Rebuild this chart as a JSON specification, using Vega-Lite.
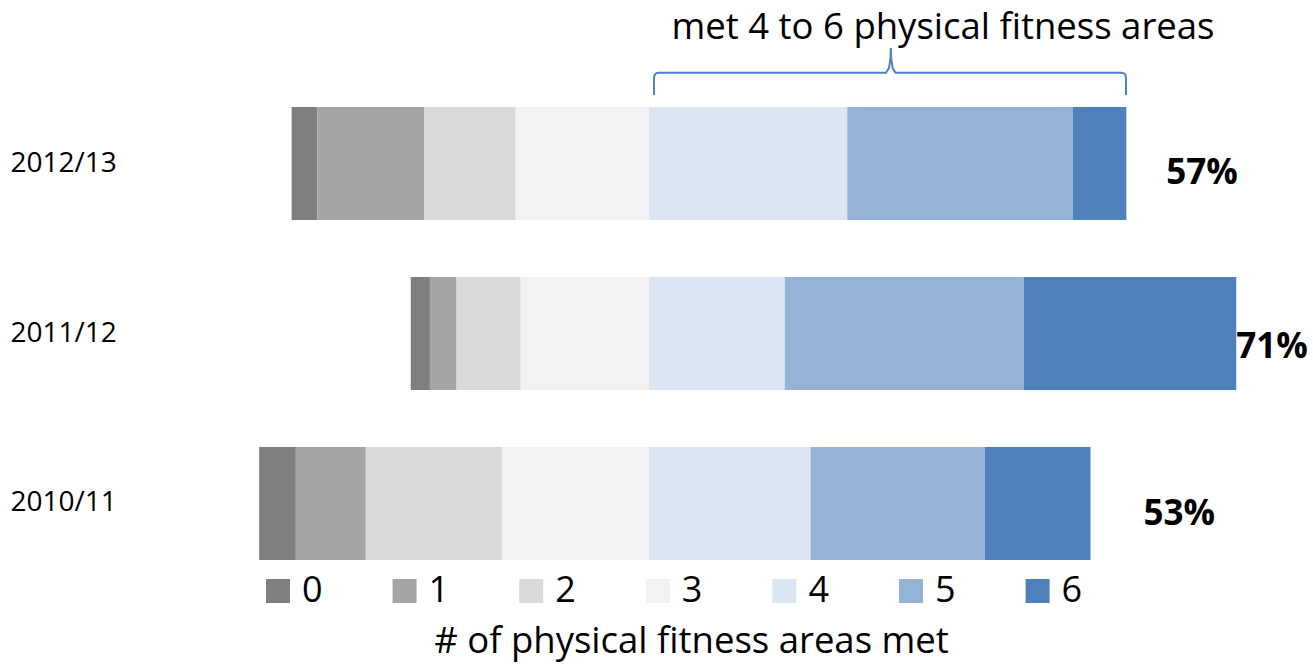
{
  "$schema": "https://vega.github.io/schema/vega-lite/v6.json",
  "width": 1063,
  "height": 453,
  "autosize": {"type": "none"},
  "padding": {"left": 250, "top": 107, "right": 0, "bottom": 105},
  "background": "white",
  "config": {"view": {"stroke": null}, "font": "Open Sans"},
  "layer": [
    {
      "layer": [
        {
          "data": {
            "values": [
              {"year": "2012/13", "met": 0, "pct": 3.1},
              {"year": "2012/13", "met": 1, "pct": 12.8},
              {"year": "2012/13", "met": 2, "pct": 11.0},
              {"year": "2012/13", "met": 3, "pct": 16.0},
              {"year": "2012/13", "met": 4, "pct": 23.8},
              {"year": "2012/13", "met": 5, "pct": 27.1},
              {"year": "2012/13", "met": 6, "pct": 6.4},
              {"year": "2011/12", "met": 0, "pct": 2.3},
              {"year": "2011/12", "met": 1, "pct": 3.2},
              {"year": "2011/12", "met": 2, "pct": 7.7},
              {"year": "2011/12", "met": 3, "pct": 15.4},
              {"year": "2011/12", "met": 4, "pct": 16.3},
              {"year": "2011/12", "met": 5, "pct": 28.7},
              {"year": "2011/12", "met": 6, "pct": 25.5},
              {"year": "2010/11", "met": 0, "pct": 4.4},
              {"year": "2010/11", "met": 1, "pct": 8.4},
              {"year": "2010/11", "met": 2, "pct": 16.4},
              {"year": "2010/11", "met": 3, "pct": 17.6},
              {"year": "2010/11", "met": 4, "pct": 19.4},
              {"year": "2010/11", "met": 5, "pct": 20.9},
              {"year": "2010/11", "met": 6, "pct": 12.7}
            ]
          },
          "transform": [
            {"calculate": "datum.met < 4 ? -datum.pct : datum.pct", "as": "signed"},
            {"calculate": "abs(datum.met - 3.5)", "as": "rank"}
          ],
          "mark": {"type": "bar"},
          "encoding": {
            "y": {
              "field": "year",
              "type": "nominal",
              "sort": ["2012/13", "2011/12", "2010/11"],
              "scale": {"paddingInner": 0.335, "paddingOuter": 0},
              "axis": {
                "title": null,
                "labelAlign": "left",
                "labelPadding": 240,
                "ticks": false,
                "tickSize": 0,
                "domain": false,
                "grid": false,
                "labelFontSize": 28,
                "labelFont": "Open Sans",
                "labelColor": "black",
                "labelBaseline": "middle"
              }
            },
            "x": {
              "field": "signed",
              "type": "quantitative",
              "stack": "zero",
              "scale": {"domain": [-47.9, 79.71], "nice": false, "zero": false},
              "axis": {
                "title": "# of physical fitness areas met",
                "labels": false,
                "ticks": false,
                "domain": false,
                "grid": false,
                "titleFontSize": 36.5,
                "titleFont": "Open Sans",
                "titleFontWeight": "normal",
                "titleColor": "black",
                "titleX": 441,
                "titleY": 92,
                "titleAlign": "center",
                "titleBaseline": "alphabetic"
              }
            },
            "color": {
              "field": "met",
              "type": "nominal",
              "scale": {
                "domain": [0, 1, 2, 3, 4, 5, 6],
                "range": ["#7F7F7F", "#A5A5A5", "#D9D9D9", "#F2F2F2", "#DCE6F2", "#95B3D7", "#4F81BD"]
              },
              "legend": {
                "title": null,
                "orient": "none",
                "legendX": 10,
                "legendY": 466,
                "direction": "horizontal",
                "columns": 7,
                "symbolType": "square",
                "symbolSize": 576,
                "symbolStrokeWidth": 0,
                "symbolOpacity": 1,
                "labelFontSize": 36,
                "labelFont": "Open Sans",
                "labelColor": "black",
                "labelOffset": 6,
                "columnPadding": 63.6,
                "padding": 0
              }
            },
            "order": {"field": "rank", "type": "quantitative"}
          }
        },
        {
          "data": {
            "values": [
              {"year": "2012/13", "total": 57.3, "label": "57%"},
              {"year": "2011/12", "total": 70.5, "label": "71%"},
              {"year": "2010/11", "total": 53.0, "label": "53%"}
            ]
          },
          "encoding": {
            "y": {"field": "year", "type": "nominal", "sort": ["2012/13", "2011/12", "2010/11"]},
            "x": {"field": "total", "type": "quantitative", "scale": {"domain": [-47.9, 79.71], "nice": false, "zero": false}},
            "text": {"field": "label", "type": "nominal"}
          },
          "layer": [
            {
              "transform": [{"filter": "datum.year === '2012/13'"}],
              "mark": {"type": "text", "align": "left", "baseline": "middle", "dx": 40, "dy": 9, "fontSize": 35, "fontWeight": "bold", "font": "Open Sans", "color": "black"}
            },
            {
              "transform": [{"filter": "datum.year === '2011/12'"}],
              "mark": {"type": "text", "align": "left", "baseline": "middle", "dx": 0, "dy": 13, "fontSize": 35, "fontWeight": "bold", "font": "Open Sans", "color": "black"}
            },
            {
              "transform": [{"filter": "datum.year === '2010/11'"}],
              "mark": {"type": "text", "align": "left", "baseline": "middle", "dx": 53, "dy": 11, "fontSize": 35, "fontWeight": "bold", "font": "Open Sans", "color": "black"}
            }
          ]
        }
      ]
    },
    {
      "data": {
        "values": [
          {"i": 1, "bx": 0.60, "by": 12},
          {"i": 2, "bx": 0.60, "by": 29},
          {"i": 3, "bx": 0.67, "by": 32},
          {"i": 4, "bx": 0.84, "by": 33.7},
          {"i": 5, "bx": 1.08, "by": 34.3},
          {"i": 6, "bx": 28.45, "by": 34.3},
          {"i": 7, "bx": 28.81, "by": 39},
          {"i": 8, "bx": 28.99, "by": 49},
          {"i": 9, "bx": 29.03, "by": 59},
          {"i": 10, "bx": 29.07, "by": 49},
          {"i": 11, "bx": 29.24, "by": 39},
          {"i": 12, "bx": 29.59, "by": 34.3},
          {"i": 13, "bx": 56.66, "by": 34.3},
          {"i": 14, "bx": 57.02, "by": 33.7},
          {"i": 15, "bx": 57.20, "by": 32},
          {"i": 16, "bx": 57.26, "by": 29},
          {"i": 17, "bx": 57.26, "by": 12}
        ]
      },
      "layer": [
        {
          "mark": {"type": "line", "color": "#4F81BD", "strokeWidth": 2, "interpolate": "linear"},
          "encoding": {
            "x": {"field": "bx", "type": "quantitative", "scale": {"domain": [-47.9, 79.71], "nice": false, "zero": false}},
            "y": {"field": "by", "type": "quantitative", "scale": {"domain": [-453, 0], "nice": false, "zero": false}, "axis": null},
            "order": {"field": "i", "type": "quantitative"}
          }
        },
        {
          "transform": [{"filter": "datum.i === 1"}],
          "mark": {
            "type": "text",
            "text": "met 4 to 6 physical fitness areas",
            "align": "center",
            "baseline": "alphabetic",
            "fontSize": 36.5,
            "font": "Open Sans",
            "color": "black"
          },
          "encoding": {
            "x": {"datum": 35.29, "type": "quantitative"},
            "y": {"datum": 68, "type": "quantitative"}
          }
        }
      ]
    }
  ],
  "resolve": {"scale": {"y": "independent"}}
}
